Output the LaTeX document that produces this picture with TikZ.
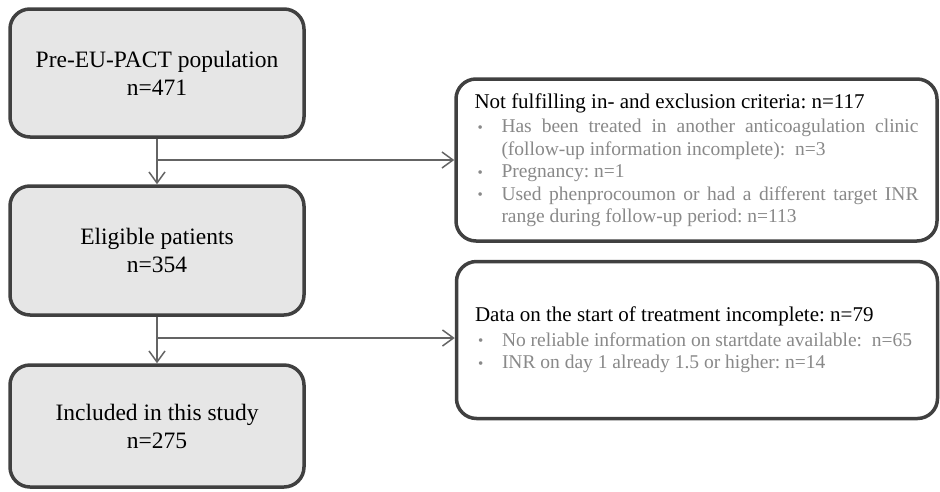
\documentclass[tikz,border=0pt]{standalone}
\usepackage{fontspec}
\setmainfont{Liberation Serif}
\usetikzlibrary{arrows.meta}

\definecolor{boxline}{RGB}{64,64,64}
\definecolor{boxfill}{RGB}{230,230,230}
\definecolor{flowline}{RGB}{100,100,100}
\definecolor{subtext}{RGB}{137,137,137}

\frenchspacing
\newcommand{\exhead}[1]{{\color{black}\fontsize{21}{25}\selectfont #1\par}\vspace{2pt}}
\newcommand{\exitem}[1]{\par\noindent\hangindent=27pt\hangafter=1\hyphenpenalty=10000\makebox[27pt][l]{\hspace{3pt}\raisebox{0.5pt}{\fontsize{15}{15}\selectfont\textbullet}}#1\par}

\tikzset{
  stage/.style={draw=boxline, line width=3.5pt, fill=boxfill, rounded corners=20pt,
    minimum width=294pt, align=center, font=\fontsize{23.5}{28}\selectfont},
  exclbox/.style={draw=boxline, line width=3.5pt, fill=white, rounded corners=20pt,
    minimum width=481pt, text width=444pt, align=justify, text=subtext,
    font=\fontsize{19.5}{22.5}\selectfont},
  flow/.style={draw=flowline, line width=1.5pt, -{Straight Barb[length=11pt,width=16pt]}}
}

\begin{document}
\begin{tikzpicture}[x=1pt,y=-1pt]
\useasboundingbox (0,0) rectangle (940,491);

% Main flow
\node[stage, minimum height=128pt] (pre) at (157,73) {Pre-EU-PACT population\\n=471};
\node[stage, minimum height=129pt] (elig) at (157,250.5) {Eligible patients\\n=354};
\node[stage, minimum height=122pt] (incl) at (157,426) {Included in this study\\n=275};

% Exclusions
\node[exclbox, minimum height=162pt] (crit) at (696.5,160) {%
  \exhead{Not fulfilling in- and exclusion criteria: n=117}
  \exitem{Has been treated in another anticoagulation clinic\linebreak (follow-up information incomplete):~ n=3}
  \exitem{Pregnancy: n=1}
  \exitem{Used phenprocoumon or had a different target INR\linebreak range during follow-up period: n=113}};
\node[exclbox, minimum height=157pt] (start) at (697,340) {%
  \exhead{Data on the start of treatment incomplete: n=79}
  \exitem{No reliable information on startdate available:~ n=65}
  \exitem{INR on day 1 already 1.5 or higher: n=14}};

% Arrows
\coordinate (j1) at (pre.south |- crit.west);
\coordinate (j2) at (elig.south |- 0,338);
\coordinate (t2) at (start.west |- 0,338);
\draw[flow] (pre.south) -- (elig.north);
\draw[flow] (j1) -- (crit.west);
\draw[flow] (elig.south) -- (incl.north);
\draw[flow] (j2) -- (t2);

\end{tikzpicture}
\end{document}
